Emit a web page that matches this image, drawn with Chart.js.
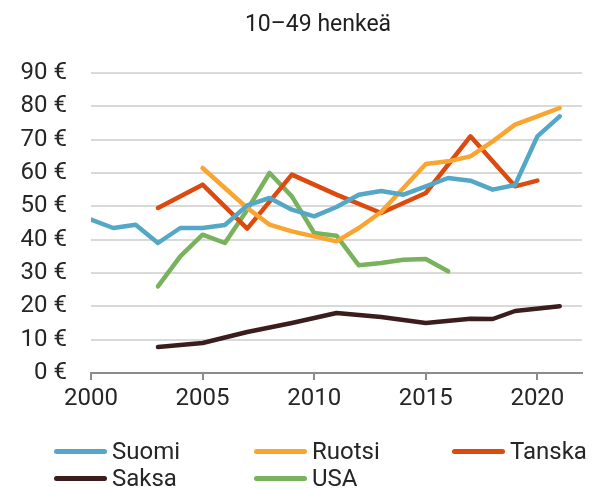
<!DOCTYPE html>
<html>
<head>
<meta charset="utf-8">
<script src="https://cdn.jsdelivr.net/npm/chart.js@4"></script>
<style>
  body { margin: 0; background: #fff; }
  #wrap { position: relative; width: 599px; height: 489px; font-family: Roboto, sans-serif; color: #262626; }
  #chart { position: absolute; left: 0; top: 0; }
  #title { position: absolute; top: 10px; left: 0; width: 636px; text-align: center; font-size: 23px; color: #1e1e1e; }
  .item { position: absolute; font-size: 24px; line-height: 26px; }
  .item span { display: inline-block; width: 53px; height: 5px; border-radius: 3px; vertical-align: middle; margin-right: 5px; position: relative; top: -1px; }
</style>
</head>
<body>
<div id="wrap">
  <canvas id="chart" width="599" height="489"></canvas>
  <div id="title">10–49 henkeä</div>
  <div id="legend"></div>
</div>
<script>
const years = [2000, 2001, 2002, 2003, 2004, 2005, 2006, 2007, 2008, 2009, 2010,
               2011, 2012, 2013, 2014, 2015, 2016, 2017, 2018, 2019, 2020, 2021]

const suomi  = [46, 43.5, 44.5, 39, 43.5, 43.5, 44.4, 50.3, 52.5, 49, 47,
                49.8, 53.5, 54.6, 53.5, 56, 58.5, 57.7, 55, 56.4, 71, 77]
const ruotsi = [null, null, null, null, null, 61.5, 55.5, 49.5, 44.5, 42.5, 41,
                39.5, 43.5, 48.3, 55.5, 62.7, 63.5, 65, 69.5, 74.5, 77, 79.5]
const tanska = [null, null, null, 49.5, null, 56.5, null, 43.3, null, 59.5, null,
                53.5, null, 48, null, 54, null, 71, null, 56, 57.7, null]
const saksa  = [null, null, null, 7.8, null, 9, null, 12.3, null, 15, null,
                18, null, 16.8, null, 15, null, 16.3, 16.2, 18.6, null, 20]
const usa    = [null, null, null, 26, 35, 41.5, 39, 49, 60, 53, 42,
                41.2, 32.3, 33, 34, 34.2, 30.5, null, null, null, null, null]

const seriesNames = ['Suomi', 'Ruotsi', 'Tanska', 'Saksa', 'USA']
const seriesColors = ['#55a8c5', '#f8a532', '#dc4a0f', '#3b1d1e', '#78b25c']
const seriesValues = [suomi, ruotsi, tanska, saksa, usa]

const toPoints = (vals) => years.map((y, i) => ({x: y, y: vals[i]}))

// legend order in the picture: Suomi Ruotsi Tanska / Saksa USA
const legendPos = [[54, 438], [254, 438], [452, 438], [54, 465], [254, 465]]

var legend = document.getElementById('legend')
seriesNames.forEach((name, i) => {
    var d = document.createElement('div')
    d.className = 'item'
    d.style.left = legendPos[i][0] + 'px'
    d.style.top = legendPos[i][1] + 'px'
    d.innerHTML = '<span style="background:' + seriesColors[i] + '"></span>' + name
    legend.appendChild(d)
})

var ctx = document.getElementById('chart').getContext('2d')
new Chart(ctx, {
    type: 'line',
    data: {
        datasets: seriesNames.map((name, i) => ({
            label: name,
            data: toPoints(seriesValues[i]),
            borderColor: seriesColors[i],
            backgroundColor: seriesColors[i],
            borderWidth: 4.5,
            borderCapStyle: 'round',
            borderJoinStyle: 'round',
            pointRadius: 0,
            spanGaps: true,
            fill: false,
        }))
    },
    options: {
        responsive: false,
        animation: false,
        layout: { padding: { top: 73, right: 17, left: 0, bottom: 0 } },
        plugins: {
            legend: { display: false },
            title: { display: false },
            tooltip: { enabled: false },
        },
        scales: {
            x: {
                type: 'linear',
                min: 2000,
                max: 2022,
                afterFit: (scale) => { scale.height = 116 },
                border: { display: true, color: '#8c8c8c', width: 2 },
                grid: { drawOnChartArea: false, drawTicks: true, tickLength: 7, color: '#8c8c8c', lineWidth: 2 },
                ticks: {
                    stepSize: 5,
                    includeBounds: false,
                    padding: 5,
                    color: '#262626',
                    font: { family: 'Roboto', size: 24 },
                    callback: (v) => String(v),
                },
            },
            y: {
                min: 0,
                max: 90,
                afterFit: (scale) => { scale.width = 91 },
                border: { display: false },
                grid: { drawTicks: false, color: '#d9d9d9', lineWidth: 2 },
                ticks: {
                    stepSize: 10,
                    padding: 24,
                    color: '#262626',
                    font: { family: 'Roboto', size: 24 },
                    callback: (v) => v + ' €',
                },
            },
        },
    },
})
</script>
</body>
</html>
